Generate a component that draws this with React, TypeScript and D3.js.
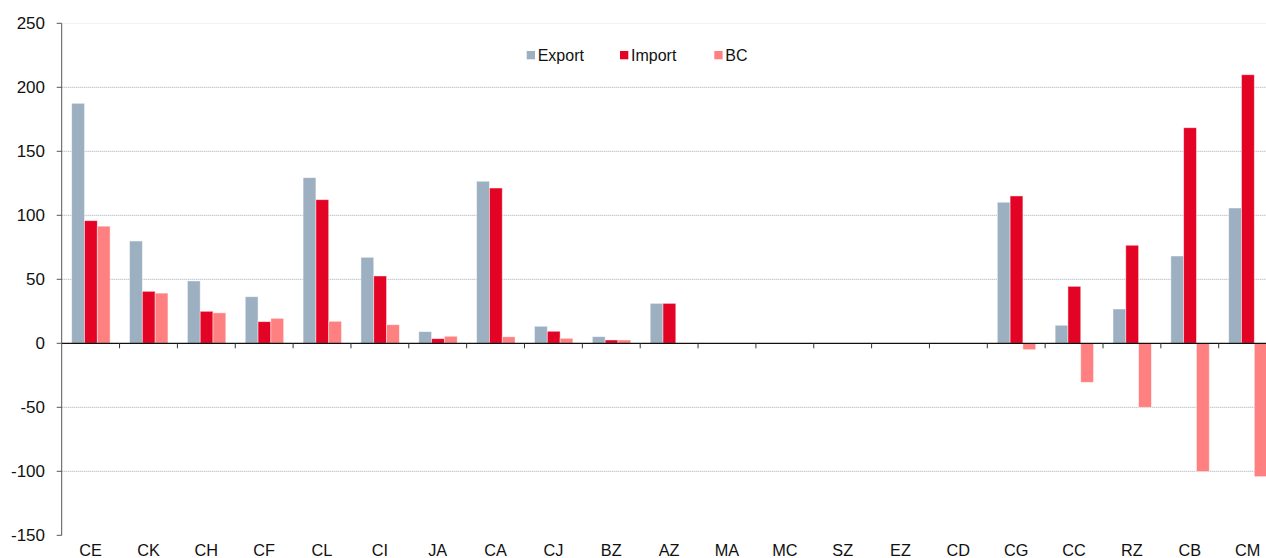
import React from "react";
import * as d3 from "d3";

const categories = ["CE","CK","CH","CF","CL","CI","JA","CA","CJ","BZ","AZ","MA","MC","SZ","EZ","CD","CG","CC","RZ","CB","CM"];
const exportValues = [187.5,79.9,48.7,36.4,129.4,67.2,9.1,126.6,13.3,5.2,31.2,0,0,0,0,0,110.2,14.1,26.8,68.2,105.7];
const importValues = [95.8,40.6,25.0,16.9,112.2,52.6,3.6,121.3,9.4,2.6,31.2,0,0,0,0,0,115.1,44.5,76.6,168.4,209.8];
const bcValues = [91.5,39.2,23.8,19.5,17.2,14.5,5.5,5.1,3.9,2.6,0,0,0,0,0,0,-5.0,-30.5,-50.0,-100.2,-104.2];
const seriesNames = ["Export","Import","BC"];
const seriesColors = ["#9DB0C1","#E30425","#FF8080"];
const yTicks = [-150,-100,-50,0,50,100,150,200,250];

const W = 1266, H = 558;
const FONT = "'Liberation Sans', Arial, Helvetica, sans-serif";

export default function App() {
  const y = d3.scaleLinear().domain([-150, 250]).range([535.3, 23.3]);
  const x = d3.scaleBand<string>().domain(categories).range([61.7, 61.7 + 21 * 57.85]).padding(0);
  const bw = x.bandwidth();
  const inner = d3.scaleBand<string>().domain(seriesNames).range([10, 48.4]).padding(0);
  const series = [exportValues, importValues, bcValues];
  const x0 = 61.7;
  const xEnd = W;

  return (
    <svg width={W} height={H} style={{ position: "absolute", left: 0, top: 0, background: "#fff" }} fontFamily={FONT}>
      {/* gridlines */}
      {yTicks.filter(t => t !== 0 && t !== -150).map(t => (
        <line key={"g" + t} x1={x0} x2={xEnd} y1={y(t)} y2={y(t)}
          stroke={t === 250 ? "#eef0f2" : "#9AA6B2"} strokeWidth={1} strokeDasharray={t === 250 ? undefined : "1,1"} />
      ))}
      {/* bars */}
      {series.map((vals, si) => (
        <g key={"s" + si}>
          {categories.map((c, i) => {
            const v = vals[i];
            if (v === 0) return null;
            const bx = (x(c) as number) + (inner(seriesNames[si]) as number);
            const top = y(Math.max(0, v));
            const bottom = y(Math.min(0, v));
            return (
              <rect key={c} x={bx} y={top} width={inner.bandwidth()} height={bottom - top}
                fill={seriesColors[si]} stroke="rgba(255,255,255,0.55)" strokeWidth={0.8} />
            );
          })}
        </g>
      ))}
      {/* zero axis */}
      <line x1={x0} x2={xEnd} y1={y(0)} y2={y(0)} stroke="#111" strokeWidth={1.2} />
      {categories.map((c, i) => (
        <line key={"xt" + c} x1={(x(c) as number) + bw} x2={(x(c) as number) + bw} y1={y(0)} y2={y(0) + 5}
          stroke="#333" strokeWidth={1} />
      ))}
      {/* y axis */}
      <line x1={x0} x2={x0} y1={y(250)} y2={y(-150)} stroke="#555" strokeWidth={1} />
      {yTicks.map(t => (
        <g key={"yt" + t}>
          <line x1={x0 - 5} x2={x0} y1={y(t)} y2={y(t)} stroke="#555" strokeWidth={1} />
          <text x={45} y={y(t)} dy="0.35em" textAnchor="end" fontSize={17} fill="#111">{t}</text>
        </g>
      ))}
      {/* x labels */}
      {categories.map(c => (
        <text key={"xl" + c} x={(x(c) as number) + bw / 2} y={556} textAnchor="middle" fontSize={16.3} fill="#111">{c}</text>
      ))}
      {/* legend */}
      {seriesNames.map((n, i) => {
        const lx = [526.7, 620, 714.3][i];
        return (
          <g key={"lg" + n}>
            <rect x={lx} y={51} width={8.3} height={8.3} fill={seriesColors[i]} />
            <text x={lx + 11} y={60.7} fontSize={16} fill="#111">{n}</text>
          </g>
        );
      })}
    </svg>
  );
}
